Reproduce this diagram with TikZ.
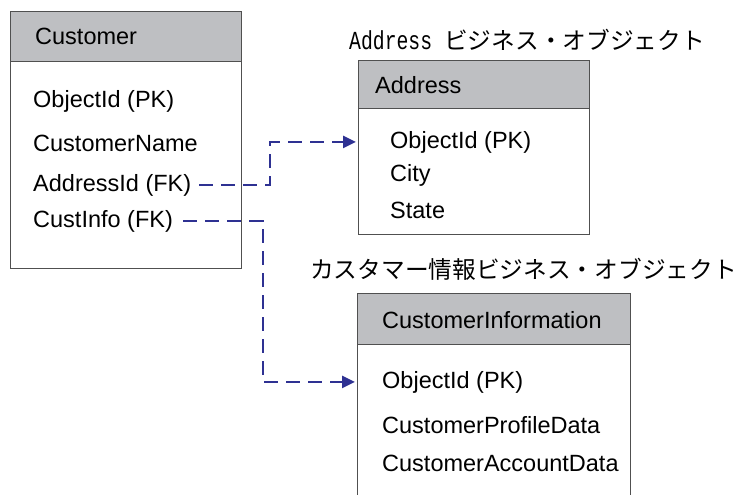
\documentclass[tikz,border=0pt]{standalone}
\usepackage{fontspec}
\setmainfont{Liberation Sans}
\newfontfamily\jpfont{Noto Sans CJK JP}
\newfontfamily\monofont{Liberation Mono}
\usetikzlibrary{arrows.meta}
\definecolor{linkblue}{RGB}{46,49,146}
\definecolor{hdrgray}{RGB}{190,191,194}
\definecolor{boxgray}{RGB}{80,80,80}
\newcommand{\lbf}{\fontsize{23.5pt}{26pt}\selectfont}
\newcommand{\jpf}{\fontsize{23.7pt}{26pt}\selectfont\jpfont}
\newcommand{\mnf}{\fontsize{26pt}{28pt}\selectfont\monofont}
\begin{document}
\begin{tikzpicture}[x=1pt,y=-1pt,
  boxline/.style={draw=boxgray, line width=1.4pt},
  hdr/.style={boxline, fill=hdrgray, anchor=north west, inner sep=0pt},
  bodybox/.style={boxline, fill=white, anchor=north west, inner sep=0pt},
  lbl/.style={anchor=base west, inner sep=0pt, font=\lbf},
  ttl/.style={anchor=west, inner sep=0pt},
  fk/.style={draw=linkblue, line width=2.4pt, dash pattern=on 14pt off 8pt,
    -{Triangle[length=13pt,width=12pt]}, shorten >=2pt}]
\useasboundingbox (0,0) rectangle (740,495);
\clip (0,0) rectangle (740,495);
\fill[white] (0,0) rectangle (740,495);

% Customer box
\node[bodybox, minimum width=231pt, minimum height=207pt] (cBody) at (10,61) {};
\node[hdr, minimum width=231pt, minimum height=50pt] (cHdr) at (10,11) {};
\node[lbl] (cName) at (35,45) {Customer};
\node[lbl] (cObj) at (33,108) {ObjectId (PK)};
\node[lbl] (cCust) at (33,151) {CustomerName};
\node[lbl] (cAddr) at (33,191) {AddressId (FK)};
\node[lbl] (cInfo) at (33,227) {CustInfo (FK)};

% Address box
\node[ttl] (aTitle) at (349,40) {\scalebox{0.76}[1]{\mnf Address}\hspace{12pt}{\jpf ビジネス・オブジェクト}};
\node[bodybox, minimum width=231pt, minimum height=126pt] (aBody) at (358,108) {};
\node[hdr, minimum width=231pt, minimum height=48pt] (aHdr) at (358,60) {};
\node[lbl] (aName) at (375,94) {Address};
\node[lbl] (aObj) at (390,148) {ObjectId (PK)};
\node[lbl] (aCity) at (390,181) {City};
\node[lbl] (aState) at (390,218) {State};

% CustomerInformation box
\node[ttl] (iTitle) at (310,269) {\jpf カスタマー情報ビジネス・オブジェクト};
\node[bodybox, minimum width=273pt, minimum height=200pt] (iBody) at (357,344) {};
\node[hdr, minimum width=273pt, minimum height=51pt] (iHdr) at (357,293) {};
\node[lbl] (iName) at (382,328) {CustomerInformation};
\node[lbl] (iObj) at (382,388) {ObjectId (PK)};
\node[lbl] (iProf) at (382,433) {CustomerProfileData};
\node[lbl] (iAcc) at (382,471) {CustomerAccountData};

% connectors
\coordinate (bend1) at (270,0);
\coordinate (bend2) at (263,0);
\draw[fk] ([xshift=8pt]cAddr.east) -| (bend1 |- aObj.west) -- (aBody.west |- aObj.west);
\draw[fk] ([xshift=10pt]cInfo.east) -| (bend2 |- iObj.west) -- (iBody.west |- iObj.west);
\end{tikzpicture}
\end{document}
